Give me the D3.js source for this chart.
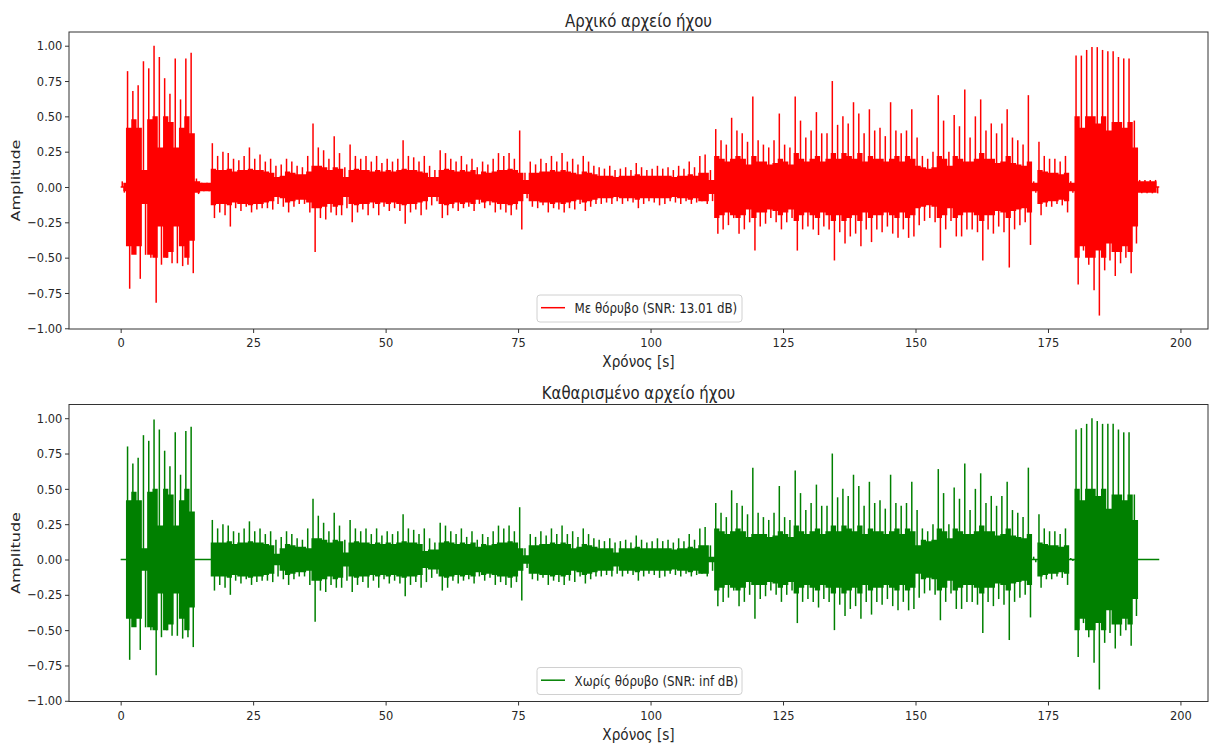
<!DOCTYPE html>
<html lang="el">
<head>
<meta charset="utf-8">
<title>Αρχικό και καθαρισμένο αρχείο ήχου</title>
<script src="https://cdn.jsdelivr.net/npm/d3@7"></script>
<style>
  body { margin: 0; background: #fff; }
  text { font-family: "DejaVu Sans", sans-serif; fill: #262626; }
</style>
</head>
<body>
<script>

// ---------- data: per second, the highest and lowest sample and the
// ---------- half-width of the dense "core" of the waveform

var seconds = d3.range(0, 196);

var noisyHi = [
  0.04, 0.82, 0.68, 0.72, 0.89, 0.84, 1.00, 0.92, 0.77, 0.66,
  0.91, 0.62, 0.91, 0.95, 0.06, 0.03, 0.03, 0.31, 0.22, 0.25,
  0.24, 0.20, 0.19, 0.22, 0.28, 0.20, 0.23, 0.18, 0.20, 0.15,
  0.16, 0.20, 0.18, 0.15, 0.14, 0.22, 0.45, 0.28, 0.26, 0.20,
  0.36, 0.24, 0.14, 0.30, 0.22, 0.20, 0.22, 0.18, 0.22, 0.17,
  0.20, 0.18, 0.20, 0.33, 0.22, 0.21, 0.18, 0.22, 0.15, 0.12,
  0.26, 0.24, 0.20, 0.18, 0.22, 0.16, 0.20, 0.14, 0.18, 0.16,
  0.20, 0.24, 0.22, 0.24, 0.20, 0.40, 0.10, 0.18, 0.16, 0.20,
  0.17, 0.22, 0.18, 0.24, 0.18, 0.20, 0.16, 0.22, 0.18, 0.15,
  0.14, 0.13, 0.15, 0.12, 0.13, 0.14, 0.12, 0.17, 0.14, 0.12,
  0.13, 0.15, 0.13, 0.14, 0.12, 0.15, 0.13, 0.18, 0.14, 0.22,
  0.23, 0.12, 0.41, 0.33, 0.30, 0.49, 0.40, 0.38, 0.32, 0.64,
  0.33, 0.30, 0.28, 0.33, 0.52, 0.30, 0.28, 0.64, 0.47, 0.35,
  0.40, 0.53, 0.38, 0.38, 0.75, 0.44, 0.50, 0.45, 0.60, 0.52,
  0.38, 0.55, 0.40, 0.42, 0.36, 0.60, 0.40, 0.38, 0.40, 0.55,
  0.35, 0.22, 0.20, 0.25, 0.65, 0.47, 0.25, 0.51, 0.43, 0.69,
  0.35, 0.50, 0.62, 0.40, 0.45, 0.38, 0.45, 0.55, 0.35, 0.33,
  0.30, 0.65, 0.04, 0.32, 0.22, 0.20, 0.20, 0.18, 0.22, 0.04,
  0.93, 0.93, 0.97, 0.99, 0.99, 0.97, 0.96, 0.96, 0.92, 0.91,
  0.91, 0.47, 0.05, 0.05, 0.05, 0.05
];

var noisyLo = [
  -0.04, -0.72, -0.42, -0.65, -0.48, -0.50, -0.82, -0.55, -0.50, -0.54,
  -0.54, -0.56, -0.55, -0.61, -0.05, -0.03, -0.03, -0.22, -0.18, -0.20,
  -0.28, -0.15, -0.17, -0.14, -0.18, -0.16, -0.15, -0.15, -0.16, -0.12,
  -0.14, -0.18, -0.14, -0.12, -0.12, -0.18, -0.46, -0.22, -0.23, -0.18,
  -0.20, -0.20, -0.15, -0.25, -0.18, -0.16, -0.20, -0.15, -0.20, -0.14,
  -0.17, -0.15, -0.17, -0.26, -0.18, -0.16, -0.20, -0.16, -0.13, -0.10,
  -0.22, -0.20, -0.15, -0.17, -0.15, -0.14, -0.17, -0.12, -0.15, -0.13,
  -0.18, -0.16, -0.18, -0.20, -0.16, -0.30, -0.08, -0.14, -0.15, -0.13,
  -0.18, -0.15, -0.16, -0.18, -0.15, -0.16, -0.12, -0.17, -0.14, -0.12,
  -0.12, -0.11, -0.12, -0.10, -0.12, -0.10, -0.11, -0.15, -0.12, -0.10,
  -0.11, -0.13, -0.12, -0.10, -0.11, -0.12, -0.10, -0.12, -0.11, -0.10,
  -0.12, -0.10, -0.33, -0.30, -0.27, -0.22, -0.33, -0.30, -0.25, -0.45,
  -0.28, -0.26, -0.22, -0.25, -0.30, -0.25, -0.22, -0.45, -0.30, -0.28,
  -0.30, -0.34, -0.28, -0.30, -0.52, -0.32, -0.40, -0.35, -0.33, -0.42,
  -0.30, -0.39, -0.30, -0.32, -0.28, -0.33, -0.36, -0.30, -0.36, -0.35,
  -0.27, -0.24, -0.22, -0.25, -0.43, -0.30, -0.24, -0.35, -0.35, -0.30,
  -0.30, -0.32, -0.52, -0.30, -0.33, -0.28, -0.32, -0.57, -0.30, -0.27,
  -0.25, -0.41, -0.04, -0.20, -0.14, -0.14, -0.12, -0.13, -0.18, -0.04,
  -0.69, -0.45, -0.55, -0.73, -0.91, -0.59, -0.52, -0.63, -0.54, -0.50,
  -0.61, -0.40, -0.045, -0.045, -0.045, -0.045
];

var noisyCore = [
  0.03, 0.42, 0.48, 0.42, 0.12, 0.48, 0.50, 0.28, 0.50, 0.46,
  0.28, 0.42, 0.50, 0.38, 0.04, 0.03, 0.03, 0.13, 0.12, 0.12,
  0.13, 0.11, 0.12, 0.12, 0.13, 0.12, 0.12, 0.11, 0.10, 0.07,
  0.08, 0.11, 0.10, 0.09, 0.09, 0.11, 0.15, 0.15, 0.14, 0.12,
  0.14, 0.13, 0.07, 0.12, 0.13, 0.12, 0.12, 0.11, 0.12, 0.11,
  0.12, 0.11, 0.12, 0.13, 0.12, 0.12, 0.11, 0.10, 0.07, 0.07,
  0.12, 0.13, 0.12, 0.11, 0.12, 0.11, 0.12, 0.09, 0.11, 0.10,
  0.11, 0.12, 0.12, 0.13, 0.12, 0.10, 0.05, 0.10, 0.10, 0.11,
  0.11, 0.12, 0.11, 0.12, 0.11, 0.10, 0.09, 0.11, 0.10, 0.09,
  0.08, 0.08, 0.08, 0.07, 0.08, 0.08, 0.08, 0.09, 0.08, 0.08,
  0.08, 0.08, 0.08, 0.08, 0.07, 0.08, 0.08, 0.09, 0.08, 0.10,
  0.10, 0.05, 0.22, 0.20, 0.18, 0.20, 0.22, 0.20, 0.16, 0.22,
  0.18, 0.18, 0.16, 0.17, 0.20, 0.18, 0.16, 0.24, 0.20, 0.18,
  0.20, 0.22, 0.18, 0.20, 0.24, 0.20, 0.24, 0.22, 0.20, 0.24,
  0.18, 0.22, 0.20, 0.20, 0.18, 0.20, 0.22, 0.18, 0.22, 0.20,
  0.15, 0.14, 0.13, 0.14, 0.22, 0.20, 0.15, 0.22, 0.20, 0.18,
  0.18, 0.20, 0.24, 0.20, 0.20, 0.17, 0.18, 0.22, 0.17, 0.16,
  0.15, 0.18, 0.03, 0.12, 0.11, 0.10, 0.10, 0.09, 0.10, 0.03,
  0.50, 0.42, 0.50, 0.50, 0.45, 0.50, 0.40, 0.46, 0.46, 0.42,
  0.46, 0.28, 0.04, 0.04, 0.04, 0.04
];

var cleanHi = [
  0.00, 0.80, 0.68, 0.72, 0.88, 0.84, 0.99, 0.92, 0.77, 0.66,
  0.90, 0.60, 0.91, 0.94, 0.00, 0.00, 0.00, 0.28, 0.22, 0.25,
  0.24, 0.20, 0.19, 0.22, 0.27, 0.20, 0.22, 0.18, 0.20, 0.14,
  0.16, 0.20, 0.18, 0.15, 0.14, 0.22, 0.43, 0.31, 0.26, 0.20,
  0.33, 0.24, 0.14, 0.28, 0.22, 0.20, 0.22, 0.18, 0.22, 0.17,
  0.20, 0.18, 0.20, 0.32, 0.22, 0.21, 0.18, 0.22, 0.15, 0.12,
  0.26, 0.24, 0.20, 0.18, 0.22, 0.16, 0.20, 0.14, 0.18, 0.16,
  0.20, 0.24, 0.22, 0.24, 0.20, 0.37, 0.08, 0.18, 0.16, 0.20,
  0.17, 0.22, 0.18, 0.24, 0.18, 0.20, 0.16, 0.22, 0.18, 0.15,
  0.14, 0.13, 0.15, 0.12, 0.13, 0.14, 0.12, 0.17, 0.14, 0.12,
  0.13, 0.15, 0.13, 0.14, 0.12, 0.15, 0.13, 0.18, 0.14, 0.22,
  0.23, 0.10, 0.40, 0.33, 0.30, 0.49, 0.40, 0.38, 0.32, 0.65,
  0.33, 0.30, 0.28, 0.33, 0.52, 0.30, 0.28, 0.63, 0.47, 0.35,
  0.40, 0.53, 0.38, 0.38, 0.75, 0.44, 0.50, 0.45, 0.60, 0.52,
  0.38, 0.55, 0.40, 0.42, 0.36, 0.60, 0.40, 0.38, 0.40, 0.55,
  0.35, 0.22, 0.20, 0.25, 0.64, 0.47, 0.25, 0.51, 0.43, 0.68,
  0.35, 0.50, 0.61, 0.40, 0.45, 0.38, 0.45, 0.55, 0.35, 0.33,
  0.30, 0.65, 0.02, 0.32, 0.22, 0.20, 0.20, 0.18, 0.22, 0.01,
  0.92, 0.93, 0.96, 1.00, 0.98, 0.96, 0.96, 0.96, 0.92, 0.90,
  0.90, 0.46, 0.00, 0.00, 0.00, 0.00
];

var cleanLo = [
  0.00, -0.71, -0.42, -0.64, -0.48, -0.50, -0.82, -0.55, -0.50, -0.54,
  -0.54, -0.56, -0.55, -0.62, 0.00, 0.00, 0.00, -0.22, -0.18, -0.20,
  -0.25, -0.15, -0.17, -0.14, -0.18, -0.16, -0.15, -0.15, -0.16, -0.12,
  -0.14, -0.18, -0.14, -0.12, -0.12, -0.18, -0.44, -0.22, -0.23, -0.18,
  -0.20, -0.20, -0.15, -0.23, -0.18, -0.16, -0.20, -0.15, -0.20, -0.14,
  -0.17, -0.15, -0.17, -0.26, -0.18, -0.16, -0.20, -0.16, -0.13, -0.10,
  -0.22, -0.20, -0.15, -0.17, -0.15, -0.14, -0.17, -0.12, -0.15, -0.13,
  -0.18, -0.16, -0.18, -0.20, -0.16, -0.29, -0.06, -0.14, -0.15, -0.13,
  -0.18, -0.15, -0.16, -0.18, -0.15, -0.16, -0.12, -0.17, -0.14, -0.12,
  -0.12, -0.11, -0.12, -0.10, -0.12, -0.10, -0.11, -0.15, -0.12, -0.10,
  -0.11, -0.13, -0.12, -0.10, -0.11, -0.12, -0.10, -0.12, -0.11, -0.10,
  -0.12, -0.08, -0.33, -0.30, -0.27, -0.22, -0.33, -0.30, -0.25, -0.42,
  -0.28, -0.26, -0.22, -0.25, -0.30, -0.25, -0.22, -0.45, -0.30, -0.28,
  -0.30, -0.34, -0.28, -0.30, -0.50, -0.32, -0.40, -0.35, -0.33, -0.42,
  -0.30, -0.39, -0.30, -0.32, -0.28, -0.33, -0.36, -0.30, -0.36, -0.35,
  -0.27, -0.24, -0.22, -0.25, -0.43, -0.30, -0.24, -0.35, -0.35, -0.30,
  -0.30, -0.32, -0.52, -0.30, -0.33, -0.28, -0.32, -0.57, -0.30, -0.27,
  -0.25, -0.41, -0.02, -0.20, -0.14, -0.14, -0.12, -0.13, -0.18, -0.01,
  -0.69, -0.45, -0.55, -0.73, -0.92, -0.59, -0.52, -0.63, -0.54, -0.50,
  -0.61, -0.40, 0.00, 0.00, 0.00, 0.00
];

var cleanCore = [
  0.00, 0.42, 0.48, 0.42, 0.08, 0.48, 0.50, 0.24, 0.50, 0.46,
  0.24, 0.42, 0.50, 0.34, 0.00, 0.00, 0.00, 0.12, 0.12, 0.12,
  0.13, 0.11, 0.12, 0.12, 0.13, 0.12, 0.12, 0.11, 0.10, 0.04,
  0.08, 0.11, 0.10, 0.09, 0.09, 0.08, 0.15, 0.15, 0.14, 0.12,
  0.14, 0.13, 0.05, 0.12, 0.13, 0.12, 0.12, 0.11, 0.12, 0.11,
  0.12, 0.11, 0.12, 0.13, 0.12, 0.12, 0.11, 0.06, 0.07, 0.07,
  0.12, 0.13, 0.12, 0.11, 0.12, 0.11, 0.12, 0.09, 0.11, 0.10,
  0.11, 0.12, 0.12, 0.13, 0.12, 0.08, 0.03, 0.10, 0.10, 0.11,
  0.11, 0.12, 0.11, 0.12, 0.11, 0.08, 0.09, 0.11, 0.10, 0.09,
  0.08, 0.08, 0.08, 0.05, 0.08, 0.08, 0.08, 0.09, 0.08, 0.08,
  0.08, 0.08, 0.08, 0.08, 0.07, 0.08, 0.08, 0.09, 0.08, 0.10,
  0.10, 0.02, 0.22, 0.20, 0.18, 0.20, 0.22, 0.20, 0.16, 0.18,
  0.18, 0.18, 0.16, 0.17, 0.20, 0.18, 0.16, 0.24, 0.20, 0.18,
  0.20, 0.22, 0.18, 0.20, 0.24, 0.20, 0.24, 0.22, 0.20, 0.24,
  0.18, 0.22, 0.20, 0.20, 0.18, 0.20, 0.22, 0.18, 0.22, 0.20,
  0.10, 0.14, 0.13, 0.14, 0.22, 0.20, 0.15, 0.22, 0.20, 0.18,
  0.18, 0.20, 0.24, 0.20, 0.20, 0.17, 0.18, 0.22, 0.17, 0.16,
  0.15, 0.18, 0.00, 0.12, 0.11, 0.10, 0.10, 0.09, 0.10, 0.00,
  0.50, 0.42, 0.50, 0.50, 0.45, 0.50, 0.36, 0.46, 0.46, 0.42,
  0.46, 0.28, 0.00, 0.00, 0.00, 0.00
];

var xTicks = [0, 25, 50, 75, 100, 125, 150, 175, 200];
var yTicks = [-1.00, -0.75, -0.50, -0.25, 0.00, 0.25, 0.50, 0.75, 1.00];

var panels = [
  { title: "Αρχικό αρχείο ήχου", hi: noisyHi, lo: noisyLo, core: noisyCore,
    color: "#ff0000", legend: "Με θόρυβο (SNR: 13.01 dB)" },
  { title: "Καθαρισμένο αρχείο ήχου", hi: cleanHi, lo: cleanLo, core: cleanCore,
    color: "#008000", legend: "Χωρίς θόρυβο (SNR: inf dB)" }
];

// ---------- layout

var w = 1209;
var h = 747;
var left = 69, right = 1208;
var plotH = 297;
var panelTops = [32, 404.5];
var sx = 0.88;   // the original text is a little narrow

var svg = d3.select("body")
    .append("svg")
    .attr("width", w)
    .attr("height", h);

var xScale = d3.scaleLinear()
    .domain([-9.75, 205.2])
    .range([left, right]);

var yScale = d3.scaleLinear()
    .domain([-1.005, 1.097])
    .range([plotH, 0]);

var xAxis = d3.axisBottom(xScale).tickValues(xTicks).tickSize(4).tickFormat(d3.format("d"));
var yAxis = d3.axisLeft(yScale).tickValues(yTicks).tickSize(4).tickFormat(d3.format(".2f"));

panels.forEach(function(p, k) {

  var g = svg.append("g")
      .attr("transform", "translate(0," + panelTops[k] + ")");

  var wave = g.append("g");

  // zero line (visible where the signal is silent)
  wave.append("line")
      .attr("x1", xScale(0))
      .attr("x2", xScale(seconds.length))
      .attr("y1", yScale(0))
      .attr("y2", yScale(0))
      .attr("stroke", p.color)
      .attr("stroke-width", 1.5);

  // dense band of the waveform
  wave.append("path")
      .datum(seconds)
      .attr("d", d3.area()
          .curve(d3.curveStep)
          .x(function(d) { return xScale(d + 0.5); })
          .y0(function(d, i) { return yScale(-p.core[i]); })
          .y1(function(d, i) { return yScale(p.core[i]); }))
      .attr("fill", p.color);

  // positive and negative peaks of each second
  wave.selectAll("line.up")
      .data(seconds)
      .enter()
      .append("line")
      .attr("class", "up")
      .attr("x1", function(d) { return xScale(d + 0.3); })
      .attr("x2", function(d) { return xScale(d + 0.3); })
      .attr("y1", yScale(0))
      .attr("y2", function(d, i) { return yScale(p.hi[i]); })
      .attr("stroke", p.color)
      .attr("stroke-width", 1.5);

  wave.selectAll("line.down")
      .data(seconds)
      .enter()
      .append("line")
      .attr("class", "down")
      .attr("x1", function(d) { return xScale(d + 0.7); })
      .attr("x2", function(d) { return xScale(d + 0.7); })
      .attr("y1", yScale(0))
      .attr("y2", function(d, i) { return yScale(p.lo[i]); })
      .attr("stroke", p.color)
      .attr("stroke-width", 1.5);

  // axes
  var gx = g.append("g")
      .attr("transform", "translate(0," + plotH + ")")
      .call(xAxis);
  gx.select(".domain").remove();
  gx.selectAll("line").attr("stroke", "#333");
  gx.selectAll("text")
      .attr("y", 18.5)
      .attr("dy", 0)
      .attr("font-size", "13px")
      .attr("fill", "#262626")
      .attr("transform", "scale(" + sx + ",1)");

  var gy = g.append("g")
      .attr("transform", "translate(" + left + ",0)")
      .call(yAxis);
  gy.select(".domain").remove();
  gy.selectAll("line").attr("stroke", "#333");
  gy.selectAll("text")
      .attr("x", -7.6)
      .attr("font-size", "13px")
      .attr("fill", "#262626")
      .attr("transform", "scale(" + sx + ",1)");

  // frame
  g.append("rect")
      .attr("x", left)
      .attr("y", 0)
      .attr("width", right - left)
      .attr("height", plotH)
      .attr("fill", "none")
      .attr("stroke", "#333")
      .attr("stroke-width", 1);

  // title
  g.append("g")
      .attr("transform", "translate(" + ((left + right) / 2) + ",-5.5)")
    .append("text")
      .attr("text-anchor", "middle")
      .attr("font-size", "17px")
      .attr("transform", "scale(" + sx + ",1)")
      .text(p.title);

  // x label
  g.append("g")
      .attr("transform", "translate(" + ((left + right) / 2) + "," + (plotH + 38) + ")")
    .append("text")
      .attr("text-anchor", "middle")
      .attr("font-size", "15.5px")
      .attr("transform", "scale(" + sx + ",1)")
      .text("Χρόνος [s]");

  // y label
  g.append("g")
      .attr("transform", "translate(20," + (plotH / 2) + ") rotate(-90)")
    .append("text")
      .attr("text-anchor", "middle")
      .attr("font-size", "16px")
      .attr("transform", "scale(1,0.75)")
      .text("Amplitude");

  // legend
  var lg = g.append("g")
      .attr("transform", "translate(537," + (plotH - 34) + ")");
  lg.append("rect")
      .attr("width", 205)
      .attr("height", 27)
      .attr("rx", 3)
      .attr("fill", "#fff")
      .attr("fill-opacity", 0.8)
      .attr("stroke", "#d0d0d0");
  lg.append("line")
      .attr("x1", 4).attr("x2", 28)
      .attr("y1", 12.7).attr("y2", 12.7)
      .attr("stroke", p.color)
      .attr("stroke-width", 1.5);
  lg.append("g")
      .attr("transform", "translate(37.5,18)")
    .append("text")
      .attr("font-size", "13.5px")
      .attr("transform", "scale(" + sx + ",1)")
      .text(p.legend);
});

</script>
</body>
</html>
